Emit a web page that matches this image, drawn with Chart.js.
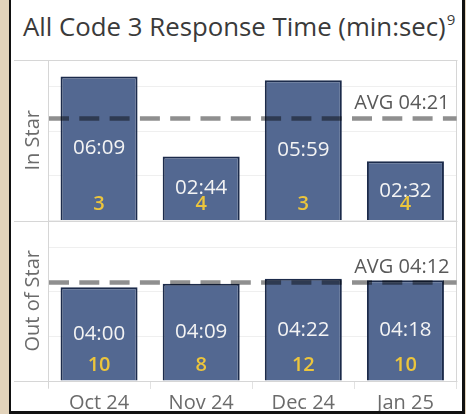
<!DOCTYPE html>
<html>
<head>
<meta charset="utf-8">
<script src="https://cdn.jsdelivr.net/npm/chart.js@4.4.1/dist/chart.umd.min.js"></script>
<style>
  html, body { margin: 0; padding: 0; }
  body { width: 466px; height: 414px; background: #e2d3bb; position: relative; overflow: hidden; font-family: "Open Sans", sans-serif; }
  #frame { position: absolute; left: 9px; top: -4px; width: 451px; height: 415px; background: #fff;
           border-left: 2px solid #111; border-right: 3px solid #111; border-bottom: 3px solid #111; }
  #title { position: absolute; left: 23px; top: 14px; font-size: 25.8px; line-height: 1; color: #3a3a3a; white-space: nowrap; }
  #title sup { font-size: 15px; position: relative; top: -2px; vertical-align: top; margin-left: 1px; }
  #wrap { position: absolute; left: 11px; top: 0; width: 451px; height: 411px; }
</style>
</head>
<body>
<div id="frame"></div>
<div id="title">All Code 3 Response Time (min:sec)<sup>9</sup></div>
<div id="wrap"><canvas id="chart" width="451" height="411"></canvas></div>
<script>
// values, times in seconds
const months = ['Oct 24', 'Nov 24', 'Dec 24', 'Jan 25'];
const inStarSeconds = [369, 164, 359, 152];
const outStarSeconds = [240, 249, 262, 258];
const inStarCounts = [3, 4, 3, 4];
const outStarCounts = [10, 8, 12, 10];
const panelNames = ['In Star', 'Out of Star'];
const panelAvgSeconds = [261, 252];

Chart.defaults.font.family = "'Open Sans', sans-serif";

function mmss(sec) {
    var m = Math.floor(sec / 60);
    var s = sec % 60;
    return String(m).padStart(2, '0') + ':' + String(s).padStart(2, '0');
}

var panelDeco = {
    id: 'panelDeco',
    beforeDatasetsDraw: function (chart) {
        var ctx = chart.ctx;
        var a = chart.chartArea;
        var yIn = chart.scales.yIn;
        var yOut = chart.scales.yOut;
        ctx.save();
        ctx.lineWidth = 1;
        ctx.strokeStyle = '#d6d6d6';
        [yIn.top, yIn.bottom, yOut.bottom].forEach(function (y) {
            var py = Math.round(y) + 0.5;
            ctx.beginPath();
            ctx.moveTo(3, py);
            ctx.lineTo(a.right + 1, py);
            ctx.stroke();
        });
        // left axis line and right edge
        var lx = Math.round(a.left) + 0.5;
        ctx.beginPath();
        ctx.moveTo(lx, a.top);
        ctx.lineTo(lx, a.bottom + 7);
        ctx.stroke();
        var rx = Math.round(a.right) - 0.5;
        ctx.beginPath();
        ctx.moveTo(rx, a.top);
        ctx.lineTo(rx, a.bottom + 1);
        ctx.stroke();
        ctx.restore();
    },
    afterDatasetsDraw: function (chart) {
        var ctx = chart.ctx;
        var a = chart.chartArea;
        var scales = [chart.scales.yIn, chart.scales.yOut];
        ctx.save();
        // average reference lines
        scales.forEach(function (sc, i) {
            var y = sc.getPixelForValue(panelAvgSeconds[i]);
            ctx.setLineDash([20, 10.3]);
            ctx.lineWidth = 4.5;
            ctx.strokeStyle = 'rgba(0,0,0,0.44)';
            ctx.beginPath();
            ctx.moveTo(a.left + 1, y);
            ctx.lineTo(a.right, y);
            ctx.stroke();
            ctx.setLineDash([]);
            ctx.fillStyle = '#595959';
            ctx.font = "20px 'Open Sans'";
            ctx.textAlign = 'right';
            ctx.textBaseline = 'alphabetic';
            ctx.fillText('AVG ' + mmss(panelAvgSeconds[i]), a.right - 7, y - 9.5);
        });
        // labels inside the bars
        var counts = [inStarCounts, outStarCounts];
        chart.data.datasets.forEach(function (ds, di) {
            var meta = chart.getDatasetMeta(di);
            meta.data.forEach(function (bar, j) {
                var mid = (bar.y + bar.base) / 2;
                ctx.textAlign = 'center';
                ctx.textBaseline = 'alphabetic';
                ctx.font = "20.5px 'Open Sans'";
                ctx.fillStyle = '#f4f4f4';
                ctx.fillText(mmss(ds.data[j]), bar.x, mid + 6);
                ctx.font = "600 20px 'Open Sans'";
                ctx.fillStyle = '#ecc53c';
                ctx.fillText(String(counts[di][j]), bar.x, bar.base - 10);
            });
        });
        ctx.restore();
    }
};

function panelAxis(name) {
    return {
        type: 'linear',
        position: 'left',
        stack: 'panels',
        stackWeight: 1,
        min: 0,
        max: 411,
        ticks: { display: false, stepSize: 114 },
        grid: { color: '#efefef', drawTicks: false },
        border: { display: false },
        title: {
            display: true,
            text: name,
            color: '#6b6b6b',
            font: { size: 20 },
            padding: { top: 10.5, bottom: 0 }
        },
        afterFit: function (s) { s.width = 37; }
    };
}

var barStyle = {
    backgroundColor: '#536891',
    borderColor: '#1c2b4b',
    borderWidth: 2,
    grouped: false,
    barPercentage: 0.754,
    categoryPercentage: 1
};

new Chart(document.getElementById('chart'), {
    type: 'bar',
    data: {
        labels: months,
        datasets: [
            Object.assign({ label: panelNames[0], data: inStarSeconds, yAxisID: 'yIn' }, barStyle),
            Object.assign({ label: panelNames[1], data: outStarSeconds, yAxisID: 'yOut' }, barStyle)
        ]
    },
    options: {
        responsive: false,
        animation: false,
        layout: { padding: { top: 60, right: 5.5, bottom: 0, left: 0 } },
        plugins: { legend: { display: false }, tooltip: { enabled: false } },
        scales: {
            x: {
                grid: { display: true, drawOnChartArea: false, drawTicks: true, tickLength: 8, color: '#e2e2e2' },
                border: { display: false },
                ticks: { color: '#6b6b6b', font: { size: 20 }, padding: 2 },
                afterFit: function (s) { s.height = 30; }
            },
            // stacked axes are laid out bottom first
            yOut: panelAxis(panelNames[1]),
            yIn: panelAxis(panelNames[0])
        }
    },
    plugins: [panelDeco]
});
</script>
</body>
</html>
